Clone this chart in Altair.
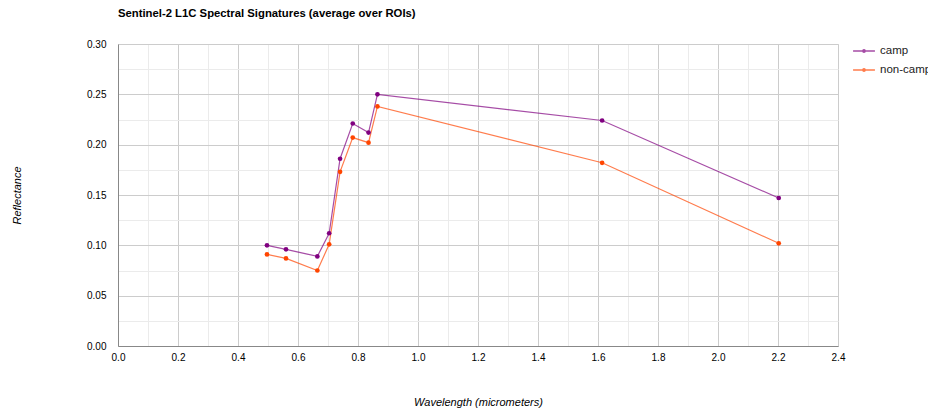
import altair as alt
import pandas as pd

wavelengths = [0.4966, 0.56, 0.6645, 0.7039, 0.7402, 0.7825, 0.8351, 0.8648, 1.6137, 2.2024]
camp = [0.100, 0.096, 0.089, 0.112, 0.186, 0.221, 0.212, 0.250, 0.224, 0.147]
non_camp = [0.091, 0.087, 0.075, 0.101, 0.173, 0.207, 0.202, 0.238, 0.182, 0.102]
series = ["camp", "non-camp"]
colors = ["#800080", "#ff4500"]
x_ticks = [round(i * 0.1, 1) for i in range(25)]
y_ticks = [round(i * 0.025, 3) for i in range(13)]

df = pd.DataFrame(
    [{"w": w, "r": v, "s": "camp"} for w, v in zip(wavelengths, camp)]
    + [{"w": w, "r": v, "s": "non-camp"} for w, v in zip(wavelengths, non_camp)]
)

FONT = "Liberation Sans"

x_enc = alt.X(
    "w:Q",
    scale=alt.Scale(domain=[0, 2.4], nice=False, zero=False),
    axis=alt.Axis(
        values=x_ticks,
        title="Wavelength (micrometers)",
        labelExpr="round(datum.value*10) % 2 == 0 ? format(datum.value, '.1f') : ''",
        gridColor={"condition": {"test": "round(datum.value*10) % 2 == 0", "value": "#cccccc"}, "value": "#ebebeb"},
        ticks=False,
        labelFlush=False,
        labelPadding=6,
        titleY=50,
        titleBaseline="top",
        titleFontStyle="italic",
        titleFontWeight="normal",
    ),
)
y_enc = alt.Y(
    "r:Q",
    scale=alt.Scale(domain=[0, 0.3], nice=False),
    axis=alt.Axis(
        values=y_ticks,
        title="Reflectance",
        labelExpr="round(datum.value*40) % 2 == 0 ? format(datum.value, '.2f') : ''",
        gridColor={"condition": {"test": "round(datum.value*40) % 2 == 0", "value": "#cccccc"}, "value": "#ebebeb"},
        ticks=False,
        labelFlush=False,
        labelPadding=12,
        titleX=-101,
        titleY=151,
        titleAngle=-90,
        titleAlign="center",
        titleBaseline="middle",
        titleFontStyle="italic",
        titleFontWeight="normal",
    ),
)
color_enc = alt.Color(
    "s:N",
    scale=alt.Scale(domain=series, range=colors),
    legend=alt.Legend(
        title=None,
        orient="none",
        legendX=735.5,
        legendY=-3.5,
        symbolType="M-1.15,0L1.15,0M-0.12,0A0.12,0.12,0,1,1,0.12,0A0.12,0.12,0,1,1,-0.12,0",
        symbolSize=361,
        symbolStrokeWidth=1.5,
        labelFontSize=11.5,
        labelColor="#222222",
        labelFont=FONT,
        labelOffset=5.5,
        rowPadding=3,
    ),
)

base = alt.Chart(df).encode(x=x_enc, y=y_enc, color=color_enc)
lines = base.mark_line(strokeWidth=1.2, opacity=0.7)
points = base.mark_point(filled=True, size=22, opacity=1)

chart = (
    alt.layer(lines, points)
    .properties(
        width=720,
        height=302,
        autosize=alt.AutoSizeParams(type="none"),
        padding={"left": 118, "top": 44, "right": 90, "bottom": 62},
        title=alt.TitleParams(
            "Sentinel-2 L1C Spectral Signatures (average over ROIs)",
            anchor="start",
            frame="group",
            offset=20,
            font=FONT,
            fontSize=11.3,
            fontWeight="bold",
            color="#000000",
        ),
    )
    .configure_view(stroke=None)
    .configure_axis(
        labelFont=FONT,
        titleFont=FONT,
        labelFontSize=11.5,
        titleFontSize=11.5,
        labelColor="#444444",
        titleColor="#222222",
        domainColor="#999999",
        domainWidth=1,
    )
    .configure(background="white")
)

chart.save("out.html", embed_options={"renderer": "svg", "actions": False})
